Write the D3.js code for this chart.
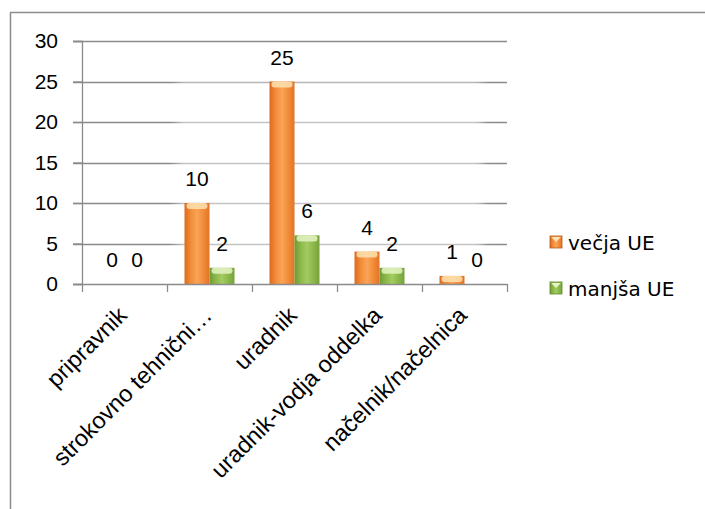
<!DOCTYPE html>
<html>
<head>
<meta charset="utf-8">
<script src="https://cdn.jsdelivr.net/npm/d3@7"></script>
<style>
  html, body { margin: 0; padding: 0; background: #fff; overflow: hidden; }
  svg { display: block; }
</style>
</head>
<body>
<svg id="chart" width="705" height="509"></svg>
<script>
// Staff by job title, larger vs. smaller administrative units
const categories = ["pripravnik", "strokovno tehnični…", "uradnik", "uradnik-vodja oddelka", "načelnik/načelnica"];
const seriesNames = ["večja UE", "manjša UE"];
const vecjaUE = [0, 10, 25, 4, 1];
const manjsaUE = [0, 2, 6, 2, 0];
const yTicks = [0, 5, 10, 15, 20, 25, 30];

const series = [vecjaUE, manjsaUE];
const svg = d3.select("#chart");
const font = "'Liberation Sans', Arial, sans-serif";

// frame: top and left edges of the chart area
svg.append("path")
  .attr("d", "M10.5,509 L10.5,12.5 L705,12.5")
  .attr("fill", "none").attr("stroke", "#8c8c8c").attr("stroke-width", 1.5);

const x = d3.scaleBand().domain(categories).range([82, 507]);
const xs = d3.scaleBand().domain(seriesNames).range([17.5, 67.5]);
const y = d3.scaleLinear().domain([0, 30]).range([284, 41]);

// gradients for the cylinder-like bars
const defs = svg.append("defs");
const palettes = [
  { id: "gOrange", stops: ["#dc6a1e", "#f28c38", "#f9a558", "#f28c38", "#e07428"], cap: "#fde2b0" },
  { id: "gGreen", stops: ["#6f9a34", "#8cb84a", "#a3cc62", "#8cb84a", "#76a23a"], cap: "#e4f3c4" }
];
palettes.forEach(p => {
  const g = defs.append("linearGradient").attr("id", p.id).attr("x1", 0).attr("x2", 1).attr("y1", 0).attr("y2", 0);
  p.stops.forEach((c, i) => g.append("stop").attr("offset", i / (p.stops.length - 1)).attr("stop-color", c));
});
defs.append("filter").attr("id", "soft").append("feGaussianBlur").attr("stdDeviation", 0.6);
defs.append("filter").attr("id", "haze").append("feGaussianBlur").attr("stdDeviation", 4);

// gridlines
svg.append("g")
  .selectAll("line").data(yTicks.slice(1)).join("line")
  .attr("x1", 73).attr("x2", 507)
  .attr("y1", d => Math.round(y(d)) + 0.5).attr("y2", d => Math.round(y(d)) + 0.5)
  .attr("stroke", "#8a8a8a").attr("stroke-width", 1.3);

// faint glow behind the bars
svg.append("rect")
  .attr("x", x(categories[1]) + 10).attr("y", y(25) - 2)
  .attr("width", x(categories[4]) + 50 - x(categories[1])).attr("height", y(0) - y(25) + 12)
  .attr("fill", "#fff").attr("opacity", 0.5).attr("filter", "url(#haze)");

// bars
const groups = svg.append("g").selectAll("g").data(categories).join("g")
  .attr("transform", d => `translate(${x(d)},0)`);

groups.each(function (cat, ci) {
  const g = d3.select(this);
  series.forEach((vals, si) => {
    const v = vals[ci];
    if (v <= 0) return;
    const bx = xs(seriesNames[si]);
    const bw = xs.bandwidth();
    const top = y(v), h = y(0) - y(v);
    const bar = g.append("g").attr("filter", "url(#soft)");
    bar.append("rect")
      .attr("x", bx).attr("y", top).attr("width", bw).attr("height", h)
      .attr("fill", `url(#${palettes[si].id})`);
    bar.append("rect")
      .attr("x", bx + 2).attr("y", top).attr("width", bw - 4).attr("height", Math.min(6, h))
      .attr("rx", 3)
      .attr("fill", palettes[si].cap).attr("opacity", 0.85);
  });
});

// value labels
groups.each(function (cat, ci) {
  const g = d3.select(this);
  series.forEach((vals, si) => {
    g.append("text")
      .attr("x", xs(seriesNames[si]) + xs.bandwidth() / 2)
      .attr("y", y(vals[ci]) - 17)
      .attr("text-anchor", "middle")
      .attr("font-family", font).attr("font-size", 21)
      .attr("fill", "#000")
      .text(vals[ci]);
  });
});

// y axis
const yAxis = svg.append("g").attr("transform", "translate(82,0)")
  .call(d3.axisLeft(y).tickValues(yTicks).tickSize(9).tickPadding(15));
yAxis.select(".domain").attr("stroke", "#8a8a8a").attr("stroke-width", 1.3);
yAxis.selectAll(".tick line").attr("stroke", "#8a8a8a").attr("stroke-width", 1.3);
yAxis.selectAll(".tick text").attr("font-family", font).attr("font-size", 21).attr("fill", "#000");

// x axis: boundary ticks and rotated category labels
const bounds = categories.map(c => x(c)).concat([x.range()[1]]);
svg.append("line")
  .attr("x1", 73).attr("x2", 507).attr("y1", y(0) + 0.5).attr("y2", y(0) + 0.5)
  .attr("stroke", "#8a8a8a").attr("stroke-width", 1.3);
svg.append("g").selectAll("line").data(bounds).join("line")
  .attr("x1", d => d + 0.5).attr("x2", d => d + 0.5)
  .attr("y1", y(0)).attr("y2", y(0) + 8)
  .attr("stroke", "#8a8a8a").attr("stroke-width", 1.3);

svg.append("g").selectAll("text").data(categories).join("text")
  .attr("transform", d => `translate(${x(d) + x.bandwidth() / 2 - 8},${y(0) + 21}) rotate(-45)`)
  .attr("text-anchor", "end")
  .attr("dy", "0.71em")
  .attr("font-family", font).attr("font-size", 23.5)
  .attr("fill", "#000")
  .text(d => d);

// legend
const legend = svg.append("g").selectAll("g").data(seriesNames).join("g")
  .attr("transform", (d, i) => `translate(550,${236 + i * 46})`);
legend.append("rect")
  .attr("width", 12).attr("height", 12)
  .attr("fill", (d, i) => `url(#${palettes[i].id})`)
  .attr("stroke", (d, i) => i === 0 ? "#b85a18" : "#5f8a2c").attr("stroke-width", 0.8);
legend.append("path")
  .attr("d", "M1,1 L11,1 L6,6 Z")
  .attr("fill", (d, i) => palettes[i].cap);
legend.append("text")
  .attr("x", 18).attr("y", 14)
  .attr("font-family", "'DejaVu Sans', sans-serif").attr("font-size", 20)
  .attr("fill", "#000")
  .text(d => d);
</script>
</body>
</html>
